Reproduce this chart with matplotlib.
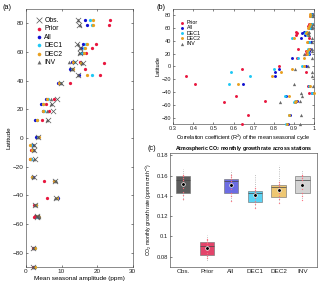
import matplotlib
matplotlib.use('Agg')
import matplotlib.pyplot as plt
from matplotlib.ticker import FormatStrFormatter, MultipleLocator
import numpy as np

plt.rcParams['font.family'] = ['Liberation Sans', 'DejaVu Sans']
plt.rcParams['mathtext.fontset'] = 'custom'
plt.rcParams['mathtext.rm'] = 'Liberation Sans'
plt.rcParams['mathtext.it'] = 'Liberation Sans:italic'
plt.rcParams['mathtext.bf'] = 'Liberation Sans:bold'

# ---------------- data ----------------
lat = [82.5, 78.9, 66.0, 63.0, 59.5, 53.3, 52.3, 48.5, 43.8, 38.4, 27.6, 23.6, 18.9,
       12.7, 1.0, -4.6, -8.4, -14.3, -27.5, -29.9, -42.0, -46.5, -55.0, -54.2, -76.5, -89.98]

amp_obs = [14.5, 15.0, 14.2, 15.1, 15.3, 13.8, 15.9, 12.9, 14.5, 9.9, 8.8, 7.2, 7.6,
           6.1, 3.5, 2.3, 2.4, 2.5, 2.2, 8.2, 8.4, 2.6, 3.0, 3.2, 2.1, 2.0]
amp_prior = [23.5, 23.4, 19.8, 18.6, 17.0, 15.1, 22.0, 16.6, 20.8, 12.3, 8.0, 5.7, 6.6,
             4.6, 3.2, 1.4, 1.3, 1.2, 1.6, 5.2, 5.9, 2.4, 2.3, 2.5, 2.0, 2.1]
amp_all = [16.7, 17.2, 16.0, 15.6, 15.8, 13.0, 15.4, 12.5, 15.0, 9.0, 5.7, 4.2, 4.7,
           2.6, 2.8, 1.7, 2.1, 1.5, 1.9, 8.0, 9.1, 2.7, 3.4, 3.3, 2.4, 2.4]
amp_dec1 = [17.9, 18.5, 16.8, 16.2, 15.6, 13.4, 15.6, 13.0, 18.6, 9.6, 6.2, 4.7, 5.0,
            3.0, 3.4, 1.5, 2.0, 1.3, 1.8, 8.1, 8.8, 2.8, 3.5, 3.4, 2.5, 2.5]
amp_dec2 = [18.7, 18.9, 17.2, 16.6, 16.2, 13.2, 15.5, 13.3, 17.2, 9.3, 6.0, 4.9, 4.9,
            3.0, 3.6, 1.1, 1.8, 1.1, 1.7, 8.0, 8.6, 2.8, 3.7, 3.5, 2.6, 2.6]
amp_inv = [14.6, 15.2, 14.5, 15.3, 15.0, 12.0, 15.8, 12.8, 14.6, 9.8, 7.0, 7.1, 5.9,
           5.8, 3.4, 2.2, 2.3, 2.3, 2.1, 8.4, 8.3, 2.5, 3.7, 3.6, 2.1, 2.1]

r2_prior = [0.985, 0.98, 0.975, 0.97, 0.975, 0.91, 0.915, 0.91, 0.975, 0.97, 0.917, 0.957, 0.96,
            0.914, 0.826, 0.642, 0.96, 0.366, 0.41, 0.97, 0.975, 0.614, 0.554, 0.755, 0.67, 0.643]
r2_all = [0.99, 0.99, 0.985, 0.98, 0.985, 0.95, 0.94, 0.955, 0.935, 0.985, 0.98, 0.975, 0.975,
          0.889, 0.96, 0.823, 0.806, 0.805, 0.646, 0.975, 0.99, 0.86, 0.905, 0.915, 0.88, 0.87]
r2_dec1 = [0.985, 0.985, 0.99, 0.985, 0.98, 0.96, 0.955, 0.965, 0.89, 0.975, 0.97, 0.97, 0.97,
           0.92, 0.94, 0.80, 0.585, 0.68, 0.576, 0.975, 0.99, 0.855, 0.90, 0.905, 0.875, 0.86]
r2_dec2 = [0.98, 0.98, 0.98, 0.975, 0.97, 0.965, 0.96, 0.97, 0.90, 0.965, 0.975, 0.965, 0.965,
           0.95, 0.95, 0.89, 0.835, 0.79, 0.62, 0.98, 0.998, 0.873, 0.905, 0.91, 0.877, 0.864]
r2_inv = [0.995, 0.995, 0.995, 0.99, 0.99, 0.975, 0.97, 0.975, 0.99, 0.99, 0.99, 0.99, 0.947,
          0.99, 0.97, 0.905, 0.99, 0.99, 0.90, 0.995, 0.932, 0.94, 0.828, 0.93, 0.932, 0.93]

groups = ['Obs.', 'Prior', 'All', 'DEC1', 'DEC2', 'INV']
box_q1 = [0.1430, 0.0816, 0.1424, 0.1336, 0.1388, 0.1424]
box_med = [0.1553, 0.0905, 0.1548, 0.1432, 0.1490, 0.1560]
box_q3 = [0.1592, 0.0942, 0.1570, 0.1449, 0.1511, 0.1599]
box_lo = [0.1358, 0.0757, 0.1351, 0.1278, 0.1338, 0.1358]
box_hi = [0.1667, 0.1017, 0.1660, 0.1620, 0.1700, 0.1652]
box_mean = [0.1517, 0.0884, 0.1510, 0.1404, 0.1459, 0.1510]
gr_obs = [0.137, 0.141, 0.144, 0.148, 0.151, 0.154, 0.156, 0.158, 0.160, 0.161]
gr_prior = [0.079, 0.081, 0.084, 0.087, 0.089, 0.091, 0.093, 0.094, 0.096, 0.097]
gr_all = [0.135, 0.140, 0.143, 0.147, 0.150, 0.153, 0.155, 0.157, 0.159, 0.161]
gr_dec1 = [0.128, 0.132, 0.135, 0.138, 0.140, 0.142, 0.144, 0.146, 0.148]
gr_dec2 = [0.133, 0.137, 0.140, 0.143, 0.146, 0.148, 0.150, 0.152, 0.154]
gr_inv = [0.136, 0.140, 0.143, 0.147, 0.150, 0.153, 0.156, 0.158, 0.160, 0.161]

# ---------------- styles ----------------
c_obs = '#555555'
c_prior = '#e8173f'
c_all = '#1010d0'
c_dec1 = '#1ec8f5'
c_dec2 = '#e8a020'
c_inv = '#6a6a6a'
box_fc = ['#4a4a4a', '#e0305a', '#5c5ce0', '#48cdf2', '#edc163', '#cfcfcf']

fs = 4.6

fig = plt.figure(figsize=(3.2, 2.85), dpi=100)
axa = fig.add_axes([0.081, 0.063, 0.334, 0.905])
axb = fig.add_axes([0.541, 0.565, 0.441, 0.404])
axc = fig.add_axes([0.531, 0.064, 0.459, 0.398])

def style(ax):
    ax.tick_params(direction='in', top=True, right=True, labelsize=fs,
                   length=1.5, width=0.4, pad=1.5, colors='#222222')
    for s in ax.spines.values():
        s.set_linewidth(0.4)
        s.set_color('#333333')

# ---------------- panel (a) ----------------
ms = 5.5
h_prior = axa.scatter(amp_prior, lat, s=ms, c=c_prior, marker='o', lw=0, zorder=3, clip_on=False)
h_all = axa.scatter(amp_all, lat, s=ms, c=c_all, marker='o', lw=0, zorder=3, clip_on=False)
h_dec1 = axa.scatter(amp_dec1, lat, s=ms, c=c_dec1, marker='o', lw=0, zorder=3, clip_on=False)
h_dec2 = axa.scatter(amp_dec2, lat, s=ms, c=c_dec2, marker='o', lw=0, zorder=3, clip_on=False)
h_inv = axa.scatter(amp_inv, lat, s=ms + 1, c=c_inv, marker='^', lw=0, zorder=3, clip_on=False)
h_obs = axa.scatter(amp_obs, lat, s=14, c=c_obs, marker='x', lw=0.5, zorder=4, clip_on=False)
axa.set_xlim(0, 30)
axa.set_ylim(-90, 90)
axa.xaxis.set_major_locator(MultipleLocator(10))
axa.yaxis.set_major_locator(MultipleLocator(20))
axa.set_xlabel('Mean seasonal amplitude (ppm)', fontsize=fs, labelpad=1)
axa.set_ylabel('Latitude', fontsize=fs, labelpad=1)
style(axa)
axa.legend([h_obs, h_prior, h_all, h_dec1, h_dec2, h_inv],
           ['Obs.', 'Prior', 'All', 'DEC1', 'DEC2', 'INV'],
           loc='upper left', bbox_to_anchor=(0.05, 0.985), frameon=False,
           fontsize=fs + 0.3, labelspacing=0.2, handletextpad=0.3,
           handlelength=1.0, borderaxespad=0.2, scatterpoints=1, markerscale=1.1)

# ---------------- panel (b) ----------------
ms2 = 4.5
hb_prior = axb.scatter(r2_prior, lat, s=ms2, c=c_prior, marker='o', lw=0, zorder=3, clip_on=False)
hb_all = axb.scatter(r2_all, lat, s=ms2, c=c_all, marker='o', lw=0, zorder=3, clip_on=False)
hb_dec1 = axb.scatter(r2_dec1, lat, s=ms2, c=c_dec1, marker='o', lw=0, zorder=3, clip_on=False)
hb_dec2 = axb.scatter(r2_dec2, lat, s=ms2, c=c_dec2, marker='o', lw=0, zorder=3, clip_on=False)
hb_inv = axb.scatter(r2_inv, lat, s=ms2 + 1, c=c_inv, marker='^', lw=0, zorder=3, clip_on=False)
axb.set_xlim(0.3, 1.0)
axb.set_ylim(-90, 90)
axb.xaxis.set_major_locator(MultipleLocator(0.1))
axb.xaxis.set_major_formatter(FormatStrFormatter('%g'))
axb.yaxis.set_major_locator(MultipleLocator(20))
axb.set_xlabel('Correlation coefficient (R$^2$) of the mean seasonal cycle', fontsize=fs - 0.6, labelpad=1)
axb.set_ylabel('Latitude', fontsize=fs - 0.5, labelpad=1)
style(axb)
axb.tick_params(labelsize=fs - 0.5)
axb.legend([hb_prior, hb_all, hb_dec1, hb_dec2, hb_inv],
           ['Prior', 'All', 'DEC1', 'DEC2', 'INV'],
           loc='upper left', bbox_to_anchor=(0.02, 0.93), frameon=False,
           fontsize=fs - 0.8, labelspacing=0.05, handletextpad=0.4,
           handlelength=1.0, borderaxespad=0.2, scatterpoints=1)

# ---------------- panel (c) ----------------
pos = np.arange(1, len(groups) + 1)
stats = []
for i, g in enumerate(groups):
    stats.append(dict(label=g, q1=box_q1[i], med=box_med[i], q3=box_q3[i],
                      whislo=box_lo[i], whishi=box_hi[i], mean=box_mean[i], fliers=[]))
bp = axc.bxp(stats, positions=pos, widths=0.6, patch_artist=True, showmeans=False,
             showcaps=False,
             boxprops=dict(linewidth=0.5, edgecolor='#777777'),
             medianprops=dict(color='#444444', linewidth=0.5),
             whiskerprops=dict(color='#aaaaaa', linewidth=0.6, linestyle=':'))
for patch, fc in zip(bp['boxes'], box_fc):
    patch.set_facecolor(fc)
    patch.set_alpha(0.9)
for i, vals in enumerate([gr_obs, gr_prior, gr_all, gr_dec1, gr_dec2, gr_inv]):
    axc.scatter(np.full(len(vals), pos[i]), vals, s=0.9, c='#ff6a7a', lw=0, zorder=4, alpha=0.9)
axc.scatter(pos, box_mean, s=7, c='black', edgecolors='white', linewidths=0.5, zorder=5)
axc.set_xlim(0.45, 6.6)
axc.set_ylim(0.07, 0.182)
axc.set_xticks(pos)
axc.set_xticklabels(groups)
axc.yaxis.set_major_locator(MultipleLocator(0.02))
axc.yaxis.set_major_formatter(FormatStrFormatter('%g'))
axc.set_ylabel('CO$_2$ monthly growth rate (ppm month$^{-1}$)', fontsize=fs - 0.9, labelpad=2)
axc.set_title('Atmospheric CO$_2$ monthly growth rate across stations', fontsize=fs - 0.85,
              fontweight='bold', pad=2.5)
style(axc)
axc.tick_params(top=False, right=False, bottom=False)
axc.tick_params(axis='y', labelsize=fs - 0.4)

# panel labels
fig.text(0.008, 0.985, '(a)', fontsize=fs + 0.6, va='top', ha='left')
fig.text(0.488, 0.985, '(b)', fontsize=fs + 0.6, va='top', ha='left')
fig.text(0.462, 0.49, '(c)', fontsize=fs + 0.6, va='top', ha='left')

fig.savefig('out.png', dpi=100)
